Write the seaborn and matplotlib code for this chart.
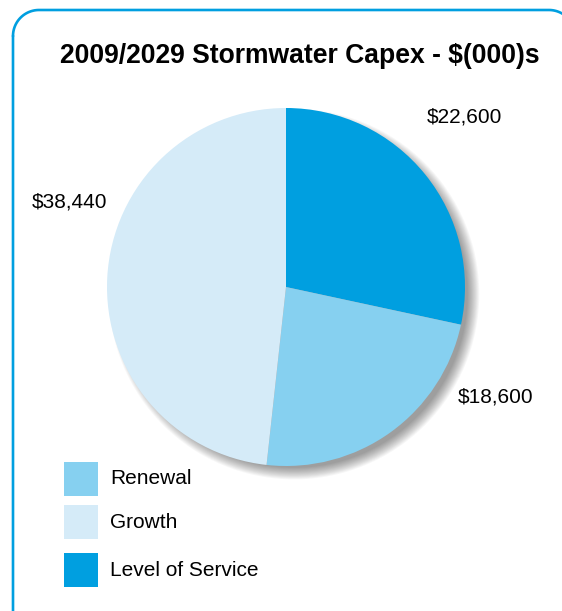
import matplotlib
matplotlib.use("Agg")
import matplotlib.pyplot as plt
from matplotlib.patches import Circle, Rectangle
import numpy as np
import seaborn as sns

categories = ["Level of Service", "Renewal", "Growth"]
values = [22600, 18600, 38440]
value_labels = ["$22,600", "$18,600", "$38,440"]
legend_order = ["Renewal", "Growth", "Level of Service"]

colors = {"Level of Service": "#009FE0", "Renewal": "#86D0F0", "Growth": "#D5EBF8"}

sns.set_theme(style="white")
plt.rcParams["font.family"] = ["Liberation Sans", "DejaVu Sans"]

W, H = 562, 611
fig = plt.figure(figsize=(W / 100, H / 100), dpi=100)

# background axes in pixel units (y down) for the frame, title and legend
bg = fig.add_axes([0, 0, 1, 1])
bg.set_xlim(0, W)
bg.set_ylim(H, 0)
bg.axis("off")

# rounded frame: left 13, top 10, right 575 and bottom 640 (both off the page)
rad = 26
left, top, right, bottom = 13, 10, 575, 640
t = np.linspace(0, np.pi / 2, 30)
fx = np.concatenate([left + rad - rad * np.cos(t), right - rad + rad * np.sin(t),
                     [right], right - rad + rad * np.cos(t),
                     left + rad - rad * np.sin(t), [left]])
fy = np.concatenate([top + rad - rad * np.sin(t), top + rad - rad * np.cos(t),
                     [bottom - rad], bottom - rad + rad * np.sin(t),
                     bottom - rad + rad * np.cos(t), [top + rad]])
bg.plot(fx, fy, color="#009FE0", linewidth=1.9, solid_capstyle="round")

bg.text(300, 56, "2009/2029 Stormwater Capex - $(000)s",
        ha="center", va="center", fontsize=19.1, fontweight="bold", color="black")

# legend: squares + text
sq = 34
legend_top = [462, 505, 553]
for name, y0 in zip(legend_order, legend_top):
    bg.add_patch(Rectangle((64, y0), sq, sq, facecolor=colors[name], edgecolor="none"))
    bg.text(110, y0 + sq / 2, name, ha="left", va="center", fontsize=15, color="black")

# pie axes: centre (286, 287) px, radius 179 px
cx, cy, r = 286, 287, 179
ax = fig.add_axes([(cx - r) / W, 1 - (cy + r) / H, 2 * r / W, 2 * r / H])
ax.set_xlim(-1, 1)
ax.set_ylim(-1, 1)
ax.set_aspect("equal")
ax.axis("off")

# soft shadow to the lower right
for i in range(14):
    rr = 0.97 + 0.005 * i
    ax.add_patch(Circle((0.045, -0.04), rr, color="black", alpha=0.03,
                        linewidth=0, zorder=0, clip_on=False))

wedges, _ = ax.pie(values, colors=[colors[c] for c in categories], startangle=90,
                   counterclock=False, radius=1.0,
                   wedgeprops=dict(linewidth=0, zorder=2))
for w in wedges:
    w.set_clip_on(False)
ax.set_xlim(-1, 1)
ax.set_ylim(-1, 1)

label_pos = [(0.995, 0.95), (1.173, -0.615), (-1.207, 0.475)]
for (x, y), txt in zip(label_pos, value_labels):
    ax.text(x, y, txt, ha="center", va="center", fontsize=15, color="black",
            clip_on=False)

fig.savefig("out.png", dpi=100)
